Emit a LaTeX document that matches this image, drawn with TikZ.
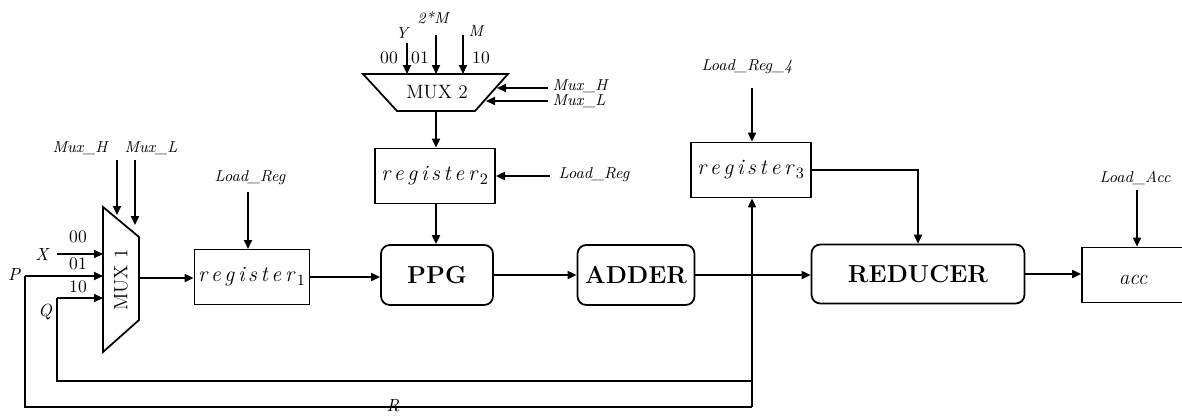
\documentclass[tikz,border=0pt]{standalone}
\usetikzlibrary{arrows.meta}

\begin{document}
\begin{tikzpicture}[x=0.02cm, y=-0.02cm, line width=1pt,
    arr/.style={-{Triangle[length=1.8mm,width=1.6mm]}},
    reg/.style={draw, minimum width=2.3cm, minimum height=1.1cm, inner sep=0pt,
      font=\fontsize{12.5}{14}\selectfont\itshape},
    unit/.style={draw, rounded corners=5pt, minimum height=1.2cm, inner sep=0pt,
      font=\fontsize{14}{16}\selectfont\bfseries},
    ctl/.style={font=\fontsize{9}{10}\selectfont\itshape, inner sep=1pt},
    sel/.style={font=\fontsize{10}{12}\selectfont, inner sep=1pt}]
  \useasboundingbox (0,0) rectangle (1182,417);
  \clip (0,0) rectangle (1182,417);

  % MUX 1
  \draw (103,207) -- (139,237) -- (139,320) -- (103,352) -- cycle;
  \node[rotate=90, font=\fontsize{11}{12}\selectfont] (mux1) at (121,280) {MUX 1};
  \coordinate (m1x) at (103,254);
  \coordinate (m1p) at (103,276);
  \coordinate (m1q) at (103,298);
  \coordinate (m1out) at (139,278);
  \coordinate (m1h) at (117,215);
  \coordinate (m1l) at (135,225);

  % MUX 2
  \draw (363,74) -- (508,74) -- (475,111) -- (397,111) -- cycle;
  \node[font=\fontsize{11}{12}\selectfont] (mux2) at (437,92) {MUX 2};
  \coordinate (m2y) at (407,74);
  \coordinate (m2d) at (436,74);
  \coordinate (m2m) at (463,74);
  \coordinate (m2h) at (497,88);
  \coordinate (m2l) at (486,101);
  \coordinate (m2out) at (436,111);

  % registers and units
  \node[reg] (reg1) at (252,277) {r\,e\,g\,i\,s\,t\,e\,r$_{\,1}$};
  \node[reg, minimum width=2.4cm] (reg2) at (435,176) {r\,e\,g\,i\,s\,t\,e\,r$_{\,2}$};
  \node[reg, minimum width=2.4cm] (reg3) at (751,170) {r\,e\,g\,i\,s\,t\,e\,r$_{\,3}$};
  \node[unit, minimum width=2.24cm] (ppg) at (437,275) {PPG};
  \node[unit, minimum width=2.34cm] (adder) at (636,275) {ADDER};
  \node[unit, minimum width=4.26cm, minimum height=1.18cm] (red) at (918,274) {REDUCER};
  \node[reg, minimum width=2.2cm] (acc) at (1137,275) {};
  \node[font=\fontsize{12}{14}\selectfont\itshape] (acctxt) at (1133,280) {acc};

  % labels
  \node[ctl] (muxh1) at (80,148) {Mux\_H};
  \node[ctl] (muxl1) at (151,148) {Mux\_L};
  \node[sel] at (78,237) {00};
  \node[sel] at (78,264) {01};
  \node[sel] at (78,287) {10};
  \node[font=\fontsize{10}{12}\selectfont\itshape] (xin) at (42,254) {X};
  \node[font=\fontsize{10}{12}\selectfont\itshape] (pin) at (14,274) {P};
  \node[font=\fontsize{10}{12}\selectfont\itshape] (qin) at (45,312) {Q};
  \coordinate (xs) at (57,254);
  \coordinate (ps) at (25,276);
  \coordinate (qs) at (57,298);

  \node[ctl] (yin) at (402,33) {Y};
  \node[ctl] (m2in) at (433,18) {2*M};
  \node[ctl] (min) at (476,31) {M};
  \node[sel] at (389,58) {00};
  \node[sel] at (420,58) {01};
  \node[sel] at (481,58) {10};
  \node[ctl, anchor=west] (muxh2) at (550,86) {Mux\_H};
  \node[ctl, anchor=west] (muxl2) at (550,101) {Mux\_L};

  \node[ctl] (ld1) at (250,178) {Load\_Reg};
  \node[ctl, anchor=west] (ld2) at (556,175) {Load\_Reg};
  \node[ctl] (ld3) at (747,67) {Load\_Reg\_4};
  \node[ctl] (ld4) at (1135,178) {Load\_Acc};

  % connections
  \draw[arr] (117,160) -- (m1h);
  \draw[arr] (135,160) -- (m1l);
  \draw[arr] (xs) -- (m1x);
  \draw[arr] (ps) -- (m1p);
  \draw[arr] (qs) -- (m1q);
  \draw[arr] (m1out) -- (m1out -| reg1.west);

  \draw[arr] (407,43) -- (m2y);
  \draw[arr] (436,35) -- (m2d);
  \draw[arr] (463,35) -- (m2m);
  \draw[arr] (548,88) -- (m2h);
  \draw[arr] (548,101) -- (m2l);
  \draw[arr] (m2out) -- (m2out |- reg2.north);
  \draw[arr] (550,176) -- (reg2.east);
  \draw[arr] (reg2.south -| m2out) -- (m2out |- ppg.north);

  \draw[arr] (248,192) -- (248,249);
  \draw[arr] (reg1.east) -- (reg1.east -| ppg.west);
  \draw[arr] (ppg.east) -- (adder.west);
  \coordinate (jn) at (752,275);
  \draw (adder.east) -- (jn);
  \draw[arr] (jn) -- (jn -| red.west);
  \draw[arr] (752,88) -- (reg3.north -| jn);
  \draw[arr] (reg3.east) -| (red.north);
  \draw[arr] (red.east) -- (red.east -| acc.west);
  \draw[arr] (1137,190) -- (acc.north -| 1137,0);

  % feedback paths
  \draw (ps) |- (752,407);
  \draw[arr] (752,407) -- (reg3.south -| jn);
  \draw (qs) |- (752,381);
  \node[font=\fontsize{10}{12}\selectfont\itshape, inner sep=0pt] (rt) at (393,406) {R};
\end{tikzpicture}
\end{document}
